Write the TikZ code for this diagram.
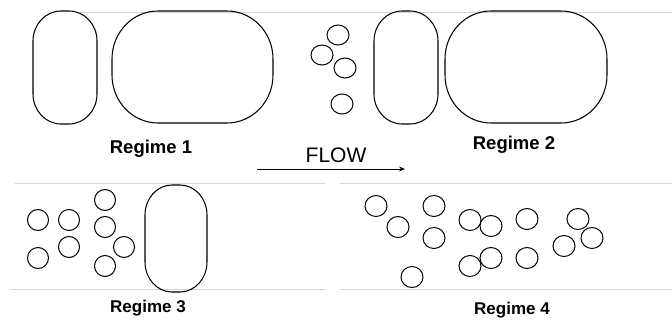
\documentclass[tikz,border=0pt]{standalone}
\usepackage{fontspec}
\setmainfont{Liberation Sans}
\usetikzlibrary{arrows.meta}

% outline of a bubble: left x, bottom y, right x, top y, corner radii rx, ry
\newcommand\pillpath[6]{%
  (#1+#5,#4) -- (#3-#5,#4)
  arc[start angle=90,end angle=0,x radius=#5,y radius=#6] -- (#3,#2+#6)
  arc[start angle=0,end angle=-90,x radius=#5,y radius=#6] -- (#1+#5,#2)
  arc[start angle=270,end angle=180,x radius=#5,y radius=#6] -- (#1,#4-#6)
  arc[start angle=180,end angle=90,x radius=#5,y radius=#6] -- cycle}

\tikzset{
  bubble/.style={draw=black,line width=1.05pt},
  wall/.style={draw=black!16,line width=1pt},
  regime/.style={font=\fontsize{18.5}{18.5}\selectfont\bfseries,anchor=base},
  regimesmall/.style={font=\fontsize{17}{17}\selectfont\bfseries,anchor=base},
  flowlabel/.style={font=\fontsize{21}{21}\selectfont,anchor=base},
  flowarrow/.style={draw=black,line width=1pt,-{Stealth[length=6pt,width=5pt]}},
  small/.style={bubble,line width=1pt}
}

\begin{document}
\begin{tikzpicture}[x=1pt,y=1pt]
\useasboundingbox (0,0) rectangle (672,325);

% tube walls
\draw[wall] (80,313) -- (672,313);
\draw[wall] (15,142) -- (325,142);
\draw[wall] (340,142) -- (672,142);
\draw[wall] (10,36) -- (325,36);
\draw[wall] (340,36) -- (672,36);

% Regime 1: slug and Taylor bubble
\draw[bubble] \pillpath{33}{201}{97}{314}{28}{30};
\draw[bubble] \pillpath{112}{202}{273}{314}{46}{48};

% dispersed bubbles between the slugs
\foreach \cx/\cy in {338/290, 322/270, 345/257, 342/221}
  \draw[small] (\cx,\cy) ellipse[x radius=11,y radius=10];

% Regime 2
\draw[bubble] \pillpath{374}{201}{438}{314}{28}{30};
\draw[bubble] \pillpath{445}{202}{607}{314}{46}{48};

% Regime 3: bubbles behind a single slug
\foreach \cx/\cy in {38/105, 38/67, 69/105, 69/78, 105/125, 105/98, 124/78, 105/59}
  \draw[small] (\cx,\cy) circle[radius=10.5];
\draw[bubble] \pillpath{145}{33}{207}{140}{27}{30};

% Regime 4: dispersed bubbles
\foreach \cx/\cy in {376/119, 398/98, 434/119, 434/87, 470/105, 491/99,
                     527/106, 578/106, 592/87, 564/79, 470/59, 491/67,
                     527/67, 412/48}
  \draw[small] (\cx,\cy) ellipse[x radius=11,y radius=10.5];

% labels
\node[regime] (r1) at (151,172) {Regime 1};
\node[regime] (r2) at (514,176) {Regime 2};
\node[regimesmall] (r3) at (148,13) {Regime 3};
\node[regimesmall] (r4) at (512,11) {Regime 4};

% flow direction
\node[flowlabel] (flow) at (336,163) {FLOW};
\coordinate (flowS) at (257,156);
\coordinate (flowE) at (405,156);
\draw[flowarrow] (flowS) -- (flowE);
\end{tikzpicture}
\end{document}
